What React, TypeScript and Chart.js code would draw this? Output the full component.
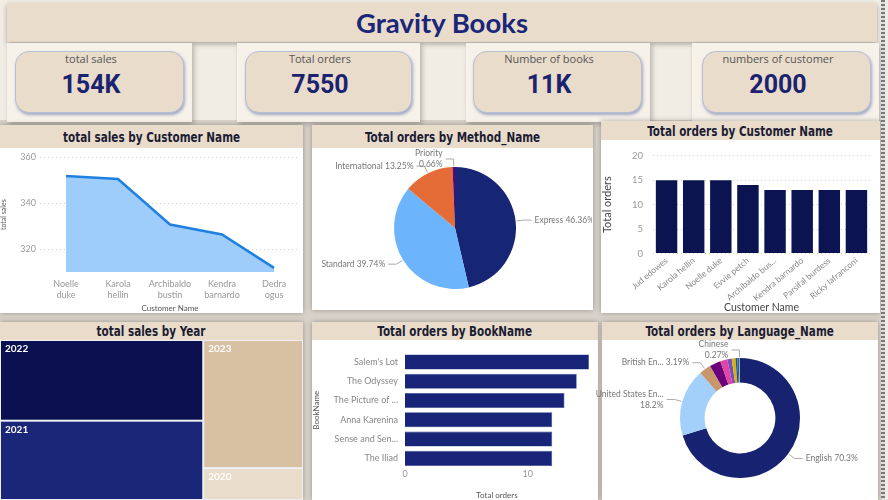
import React, { useEffect, useRef } from "react";
import { Chart, registerables } from "chart.js";
Chart.register(...registerables);

// ---------- DATA ----------
const dashboardTitle = "Gravity Books";
const kpiLabels = ["total sales", "Total orders", "Number of books", "numbers of customer"];
const kpiValues = ["154K", "7550", "11K", "2000"];

const salesCustomers = [["Noelle", "duke"], ["Karola", "hellin"], ["Archibaldo", "bustin"], ["Kendra", "barnardo"], ["Dedra", "ogus"]];
const salesValues = [351.9, 350.6, 330.7, 326.4, 311.8];
const salesTicks = [320, 340, 360];

const methodNames = ["Express", "Standard", "International", "Priority"];
const methodShares = [46.36, 39.74, 13.25, 0.66];
const methodLabels = ["Express 46.36%", "Standard 39.74%", "International 13.25%", "Priority\n0.66%"];

const orderCustomers = ["Jud edowes", "Karola hellin", "Noelle duke", "Evvie petch", "Archibaldo bus...", "Kendra barnardo", "Parsifal burdess", "Ricky lafranconi"];
const orderValues = [15, 15, 15, 14, 13, 13, 13, 13];
const orderTicks = [0, 5, 10, 15, 20];

const years = ["2022", "2021", "2023", "2020"];
const yearSales = [52.1, 51.2, 40.6, 10.1];

const books = ["Salem's Lot", "The Odyssey", "The Picture of ...", "Anna Karenina", "Sense and Sen...", "The Iliad"];
const bookOrders = [15, 14, 13, 12, 12, 12];
const bookTicks = [0, 10];

const languageNames = ["English", "United States English", "British English", "Spanish", "Multiple languages", "French", "German", "Japanese", "Greek", "Chinese"];
const languageShares = [70.3, 18.2, 3.19, 3.0, 1.9, 1.2, 1.0, 0.5, 0.44, 0.27];
const languageLabels = ["English 70.3%", "United States En...\n18.2%", "British En... 3.19%", "", "", "", "", "", "", "Chinese\n0.27%"];

// ---------- STYLE ----------
const DARK_NAVY = "#0b1350";
const BEIGE = "#e9dccb";
const TITLE_FONT = "'DejaVu Sans Condensed', 'DejaVu Sans', sans-serif";
const UI_FONT = "Lato, 'Liberation Sans', sans-serif";

Chart.defaults.font.family = UI_FONT;
Chart.defaults.color = "#888";

const methodColors = ["#172575", "#6cb4fb", "#e66c37", "#6b007b"];
const yearColors = ["#0b1150", "#1a2677", "#d8c0a2", "#e9dccb"];
const languageColors = ["#172271", "#a3d0fb", "#c8966b", "#6b007b", "#e044a7", "#744ec2", "#d9b300", "#2f4bb0", "#197278", "#9aa7b8"];

function outsideLabels(labels: string[]) {
  return {
    id: "outsideLabels",
    afterDatasetsDraw(chart: any) {
      const ctx = chart.ctx;
      const meta = chart.getDatasetMeta(0);
      ctx.save();
      meta.data.forEach((arc: any, i: number) => {
        const text = labels[i];
        if (!text) return;
        const { x, y, startAngle, endAngle, outerRadius } = arc.getProps(["x", "y", "startAngle", "endAngle", "outerRadius"], true);
        const mid = (startAngle + endAngle) / 2;
        const c = Math.cos(mid), s = Math.sin(mid);
        const p0x = x + c * (outerRadius + 1), p0y = y + s * (outerRadius + 1);
        const ex = x + c * (outerRadius + 8), ey = y + s * (outerRadius + 8);
        const right = c >= 0;
        const endX = ex + (right ? 8 : -8);
        ctx.strokeStyle = "#aaa";
        ctx.lineWidth = 1;
        ctx.beginPath();
        ctx.moveTo(p0x, p0y);
        ctx.lineTo(ex, ey);
        ctx.lineTo(endX, ey);
        ctx.stroke();
        const lines = text.split("\n");
        const lh = 11;
        ctx.font = `8.5px ${UI_FONT}`;
        ctx.fillStyle = "#777";
        ctx.textAlign = right ? "left" : "right";
        ctx.textBaseline = "middle";
        const sy = ey - ((lines.length - 1) * lh) / 2;
        lines.forEach((ln, k) => ctx.fillText(ln, endX + (right ? 3 : -3), sy + k * lh));
      });
      ctx.restore();
    },
  };
}

const treemapPlugin = {
  id: "treemap",
  afterDraw(chart: any) {
    const ctx = chart.ctx;
    const xs = chart.scales.x, ys = chart.scales.y;
    const total = yearSales.reduce((a, b) => a + b, 0);
    const cols: number[][] = [];
    let cur: number[] = [];
    let acc = 0;
    yearSales.forEach((v, i) => {
      cur.push(i);
      acc += v;
      if (cols.length === 0 && acc >= total / 2) {
        cols.push(cur);
        cur = [];
      }
    });
    if (cur.length) cols.push(cur);
    let x0 = 0;
    ctx.save();
    cols.forEach((col) => {
      const cs = col.reduce((a, i) => a + yearSales[i], 0);
      const w = cs / total;
      let y0 = 0;
      col.forEach((i) => {
        const h = yearSales[i] / cs;
        const px0 = xs.getPixelForValue(x0), px1 = xs.getPixelForValue(x0 + w);
        const py0 = ys.getPixelForValue(y0), py1 = ys.getPixelForValue(y0 + h);
        ctx.fillStyle = yearColors[i];
        ctx.fillRect(px0 + 1, py0 + 1, px1 - px0 - 2, py1 - py0 - 2);
        ctx.fillStyle = "#fff";
        ctx.font = `bold 10px ${UI_FONT}`;
        ctx.textAlign = "left";
        ctx.textBaseline = "middle";
        ctx.fillText(years[i], px0 + 5, py0 + 9);
        y0 += h;
      });
      x0 += w;
    });
    ctx.restore();
  },
};

function ChartBox({ make, style }: { make: (c: HTMLCanvasElement) => Chart; style: React.CSSProperties }) {
  const ref = useRef<HTMLCanvasElement>(null);
  useEffect(() => {
    const chart = make(ref.current!);
    return () => chart.destroy();
  }, []);
  return (
    <div style={{ position: "absolute", ...style }}>
      <canvas ref={ref} />
    </div>
  );
}

const gridDotted = { color: "#d0d0d0", drawTicks: false, lineWidth: 1 };
const noGrid = { display: false, drawTicks: false };

function makeLine(c: HTMLCanvasElement) {
  return new Chart(c, {
    type: "line",
    data: {
      labels: salesCustomers,
      datasets: [{
        data: salesValues,
        borderColor: "#1f80e0",
        backgroundColor: "#9fcdfb",
        borderWidth: 2.5,
        fill: "start",
        pointRadius: 0,
        tension: 0,
      }],
    },
    options: {
      animation: false, responsive: true, maintainAspectRatio: false,
      layout: { padding: { top: 6, right: 2, left: 0, bottom: 0 } },
      plugins: { legend: { display: false }, tooltip: { enabled: false } },
      scales: {
        x: {
          offset: true,
          grid: noGrid,
          border: { display: false },
          ticks: { font: { size: 9 }, color: "#999", padding: 7, maxRotation: 0, autoSkip: false },
          title: { display: true, text: "Customer Name", font: { size: 8 }, color: "#555", padding: 0 },
          afterFit: (s: any) => { s.height = 41; },
        },
        y: {
          min: 310, max: 360,
          afterBuildTicks: (a: any) => { a.ticks = salesTicks.map((v) => ({ value: v })); },
          grid: gridDotted,
          border: { display: false, dash: [1, 3] },
          ticks: { font: { size: 9 }, color: "#999", padding: 4 },
          title: { display: true, text: "total sales", font: { size: 7 }, color: "#555", padding: 0 },
          afterFit: (s: any) => { s.width = 40; },
        },
      },
    },
  } as any);
}

function makePie(c: HTMLCanvasElement) {
  return new Chart(c, {
    type: "pie",
    data: { labels: methodNames, datasets: [{ data: methodShares, backgroundColor: methodColors, borderWidth: 0 }] },
    options: {
      animation: false, responsive: true, maintainAspectRatio: false,
      layout: { padding: { left: 82, right: 76, top: 19, bottom: 21 } },
      plugins: { legend: { display: false }, tooltip: { enabled: false } },
    },
    plugins: [outsideLabels(methodLabels)],
  } as any);
}

function makeCustBar(c: HTMLCanvasElement) {
  return new Chart(c, {
    type: "bar",
    data: { labels: orderCustomers, datasets: [{ data: orderValues, backgroundColor: DARK_NAVY, barPercentage: 0.79, categoryPercentage: 1 }] },
    options: {
      animation: false, responsive: true, maintainAspectRatio: false,
      layout: { padding: { top: 8, right: 10, left: 0, bottom: 0 } },
      plugins: { legend: { display: false }, tooltip: { enabled: false } },
      scales: {
        x: {
          grid: noGrid,
          border: { display: false },
          ticks: { font: { size: 8.5 }, color: "#888", minRotation: 40, maxRotation: 40, autoSkip: false, padding: 2 },
          title: { display: true, text: "Customer Name", font: { size: 10.5 }, color: "#444", padding: { top: -4, bottom: -1 } },
        },
        y: {
          min: 0, max: 20,
          afterBuildTicks: (a: any) => { a.ticks = orderTicks.map((v) => ({ value: v })); },
          grid: gridDotted,
          border: { display: false, dash: [1, 3] },
          ticks: { font: { size: 9.5 }, color: "#999", padding: 10 },
          title: { display: true, text: "Total orders", font: { size: 11 }, color: "#444", padding: 0 },
          afterFit: (s: any) => { s.width = 52; },
        },
      },
    },
  } as any);
}

function makeTreemap(c: HTMLCanvasElement) {
  return new Chart(c, {
    type: "scatter",
    data: { datasets: [{ data: [] }] },
    options: {
      animation: false, responsive: true, maintainAspectRatio: false,
      layout: { padding: 0 },
      plugins: { legend: { display: false }, tooltip: { enabled: false } },
      scales: {
        x: { display: false, min: 0, max: 1 },
        y: { display: false, min: 0, max: 1, reverse: true },
      },
    },
    plugins: [treemapPlugin],
  } as any);
}

function makeBookBar(c: HTMLCanvasElement) {
  return new Chart(c, {
    type: "bar",
    data: { labels: books, datasets: [{ data: bookOrders, backgroundColor: "#182478", borderColor: "#3a4a92", borderWidth: 0.6, barPercentage: 0.78, categoryPercentage: 1 }] },
    options: {
      indexAxis: "y",
      animation: false, responsive: true, maintainAspectRatio: false,
      layout: { padding: { top: 11, right: 8, left: 0, bottom: 0 } },
      plugins: { legend: { display: false }, tooltip: { enabled: false } },
      scales: {
        x: {
          min: 0, max: 15,
          afterBuildTicks: (a: any) => { a.ticks = bookTicks.map((v) => ({ value: v })); },
          grid: noGrid,
          border: { display: false },
          ticks: { font: { size: 9 }, color: "#999", padding: 1 },
          title: { display: true, text: "Total orders", font: { size: 8 }, color: "#555", padding: 0 },
          afterFit: (s: any) => { s.height = 32; },
        },
        y: {
          grid: noGrid,
          border: { display: false },
          ticks: { font: { size: 9 }, color: "#888", padding: 7 },
          title: { display: true, text: "BookName", font: { size: 8 }, color: "#555", padding: 0 },
          afterFit: (s: any) => { s.width = 93; },
        },
      },
    },
  } as any);
}

function makeDonut(c: HTMLCanvasElement) {
  return new Chart(c, {
    type: "doughnut",
    data: { labels: languageNames, datasets: [{ data: languageShares, backgroundColor: languageColors, borderWidth: 0 }] },
    options: {
      animation: false, responsive: true, maintainAspectRatio: false,
      cutout: "59%",
      layout: { padding: { left: 86, right: 78, top: 18, bottom: 22 } },
      plugins: { legend: { display: false }, tooltip: { enabled: false } },
    },
    plugins: [outsideLabels(languageLabels)],
  } as any);
}

// ---------- LAYOUT ----------
const kpiPanels = [
  { left: 7, width: 185, cardLeft: 8, cardWidth: 169 },
  { left: 237, width: 183, cardLeft: 8, cardWidth: 167 },
  { left: 466, width: 184, cardLeft: 7, cardWidth: 169 },
  { left: 692, width: 187, cardLeft: 10, cardWidth: 169 },
];

function Panel({ left, top, width, height, headerH, title, children }: any) {
  return (
    <div style={{ position: "absolute", left, top, width, height, background: "#fff", boxShadow: "0 0 5px rgba(0,0,0,0.3)" }}>
      <div style={{
        position: "absolute", left: 0, top: 0, width, height: headerH, background: BEIGE,
        display: "flex", alignItems: "center", justifyContent: "center", overflow: "hidden",
      }}>
        <span style={{
          display: "inline-block", transform: "scaleX(0.8)", whiteSpace: "nowrap",
          fontFamily: TITLE_FONT, fontWeight: 700, fontSize: 14.5, color: "#1c1c34",
        }}>{title}</span>
      </div>
      {children}
    </div>
  );
}

export default function App() {
  return (
    <div style={{ position: "absolute", left: 0, top: 0, width: 888, height: 500, overflow: "hidden", background: "#f1ece4" }}>
      {/* backdrop of the chart rows */}
      <div style={{ position: "absolute", left: 0, top: 120, width: 881, height: 380, background: "#d8d2ca" }} />

      {/* header */}
      <div style={{
        position: "absolute", left: 7, top: 3, width: 870, height: 39, background: BEIGE,
        boxShadow: "0 2px 5px rgba(0,0,0,0.3)", display: "flex", alignItems: "center", justifyContent: "center",
        fontFamily: "Lato, sans-serif", fontWeight: 700, fontSize: 27.5, color: "#1b2678",
      }}>{dashboardTitle}</div>

      {/* KPI cards */}
      {kpiPanels.map((p, i) => (
        <div key={i} style={{ position: "absolute", left: p.left, top: 43, width: p.width, height: 79, background: "#f6f1e9", boxShadow: "2px 2px 5px rgba(0,0,0,0.25)" }}>
          <div style={{
            position: "absolute", left: p.cardLeft, top: 8, width: p.cardWidth, height: 62, boxSizing: "border-box",
            background: BEIGE, borderRadius: 14, border: "1px solid #b8bfd0", boxShadow: "1px 2px 3px rgba(90,110,170,0.55)",
          }}>
            <div style={{ position: "absolute", left: 0, right: 17, top: -1, textAlign: "center", fontFamily: "'Open Sans', sans-serif", fontSize: 11, color: "#555" }}>{kpiLabels[i]}</div>
            <div style={{ position: "absolute", left: 0, right: 17, top: 18, textAlign: "center", fontFamily: "Roboto, sans-serif", fontWeight: 700, fontSize: 25, color: "#1b2370" }}>{kpiValues[i]}</div>
          </div>
        </div>
      ))}

      {/* row 1 */}
      <Panel left={0} top={125} width={303} height={188} headerH={23} title="total sales by Customer Name">
        <ChartBox make={makeLine} style={{ left: 0, top: 23, width: 302, height: 165 }} />
      </Panel>
      <Panel left={312} top={125} width={281} height={185} headerH={23} title="Total orders by Method_Name">
        <ChartBox make={makePie} style={{ left: 0, top: 23, width: 280, height: 162 }} />
      </Panel>
      <Panel left={601} top={121} width={279} height={192} headerH={19} title="Total orders by Customer Name">
        <ChartBox make={makeCustBar} style={{ left: 0, top: 19, width: 279, height: 173 }} />
      </Panel>

      {/* row 2 */}
      <Panel left={0} top={322} width={303} height={178} headerH={18} title="total sales by Year">
        <div style={{ position: "absolute", left: 0, top: 18, width: 303, height: 160, background: "#eef0f5" }}>
          <ChartBox make={makeTreemap} style={{ left: 0, top: 0, width: 303, height: 160 }} />
        </div>
      </Panel>
      <Panel left={312} top={322} width={286} height={178} headerH={18} title="Total orders by BookName">
        <ChartBox make={makeBookBar} style={{ left: 0, top: 18, width: 285, height: 160 }} />
      </Panel>
      <Panel left={602} top={322} width={276} height={178} headerH={18} title="Total orders by Language_Name">
        <ChartBox make={makeDonut} style={{ left: -8, top: 18, width: 284, height: 160 }} />
      </Panel>

      {/* dotted right border */}
      <div style={{ position: "absolute", left: 881, top: 0, width: 4, height: 500, background: "repeating-linear-gradient(to bottom, #7a7a7a 0 2px, #dcdcdc 2px 4px)" }} />
    </div>
  );
}
